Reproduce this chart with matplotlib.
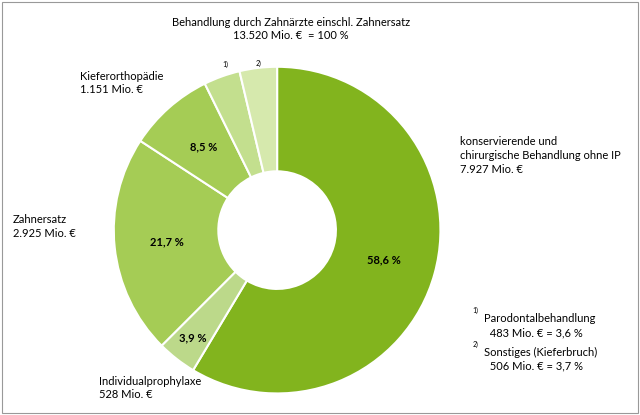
import matplotlib
matplotlib.use("Agg")
import matplotlib.pyplot as plt
from matplotlib.patches import Rectangle
import numpy as np

plt.rcParams["font.family"] = "Lato"
shares = [58.6, 3.9, 21.7, 8.5, 3.6, 3.7]
pct_labels = ["58,6 %", "3,9 %", "21,7 %", "8,5 %", "", ""]
colors = ["#82b41e", "#bcd98a", "#a5cc55", "#a5cc55", "#c3df8e", "#d6e9ad"]

fig = plt.figure(figsize=(6.4, 4.15), dpi=100)
fig.patches.append(Rectangle((0.003, 0.004), 0.994, 0.992, transform=fig.transFigure,
                             fill=False, edgecolor="#999999", lw=0.8))
ax = fig.add_axes([0.175, 0.048, 0.516, 0.795])
wedges, _ = ax.pie(shares, colors=colors, startangle=90, counterclock=False,
                   radius=1, wedgeprops=dict(width=0.64, edgecolor="white", linewidth=1.5))
ang = 90
for w, s, lab in zip(wedges, shares, pct_labels):
    mid = np.deg2rad(ang - s * 3.6 / 2)
    ang -= s * 3.6
    r = 0.68 if s > 5 else 0.84
    if lab:
        ax.text(r * np.cos(mid), r * np.sin(mid), lab, ha="center", va="center",
                fontsize=8, fontweight="bold")
ax.set_xlim(-1.01, 1.01)
ax.set_ylim(-1.01, 1.01)
ax.set_aspect("equal")
ax.axis("off")

fs = 8
fig.text(0.455, 0.93, "Behandlung durch Zahnärzte einschl. Zahnersatz\n13.520 Mio. €  = 100 %",
         ha="center", va="center", fontsize=fs, linespacing=1.3)
fig.text(0.352, 0.838, "1)", fontsize=5, ha="center")
fig.text(0.404, 0.841, "2)", fontsize=5, ha="center")
fig.text(0.125, 0.8, "Kieferorthopädie\n1.151 Mio. €", fontsize=fs, va="center", linespacing=1.3)
fig.text(0.02, 0.455, "Zahnersatz\n2.925 Mio. €", fontsize=fs, va="center", linespacing=1.3)
fig.text(0.155, 0.065, "Individualprophylaxe\n528 Mio. €", fontsize=fs, va="center", linespacing=1.3)
fig.text(0.718, 0.625, "konservierende und\nchirurgische Behandlung ohne IP\n7.927 Mio. €",
         fontsize=fs, va="center", linespacing=1.3)
fig.text(0.738, 0.245, "1)", fontsize=5)
fig.text(0.757, 0.215, "Parodontalbehandlung\n  483 Mio. € = 3,6 %", fontsize=fs, va="center", linespacing=1.3)
fig.text(0.738, 0.165, "2)", fontsize=5)
fig.text(0.757, 0.135, "Sonstiges (Kieferbruch)\n  506 Mio. € = 3,7 %", fontsize=fs, va="center", linespacing=1.3)
fig.savefig("out.png", dpi=100)
